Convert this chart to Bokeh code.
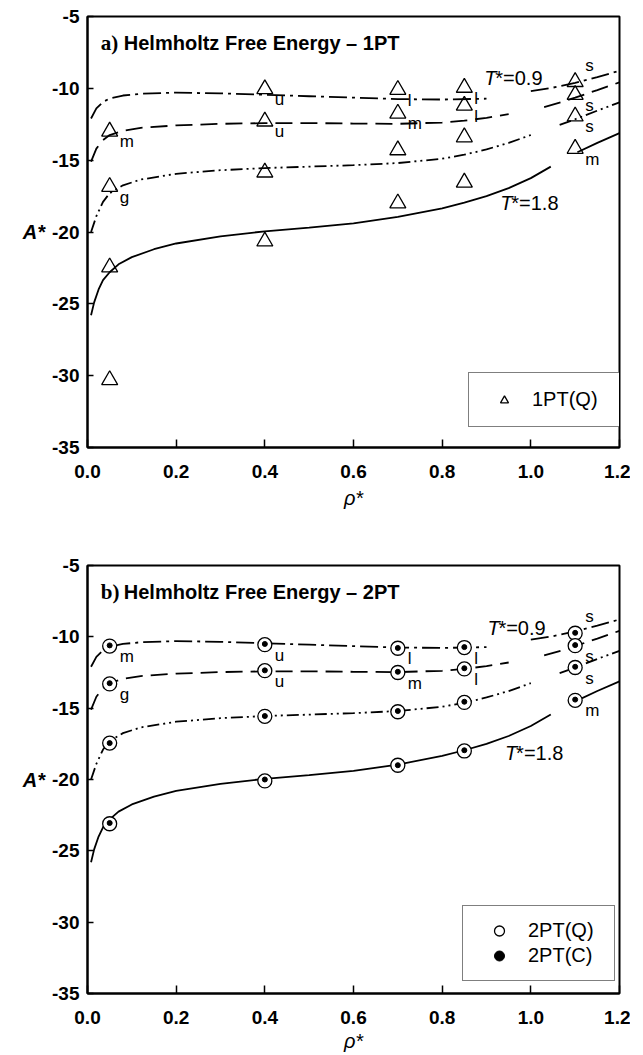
from bokeh.plotting import figure
from bokeh.models import Label, Legend, LegendItem, FixedTicker, PrintfTickFormatter, Range1d, ColumnDataSource
from bokeh.layouts import column
from bokeh.core.properties import value
from bokeh.embed import file_html
from bokeh.resources import INLINE

# ---------------- data ----------------
x_ticks = [0.0, 0.2, 0.4, 0.6, 0.8, 1.0, 1.2]
y_ticks = [-35, -30, -25, -20, -15, -10, -5]

# equation-of-state curves, two branches each
t09_left_x = [0.008, 0.02, 0.035, 0.05, 0.08, 0.12, 0.2, 0.3, 0.4, 0.5, 0.6, 0.7, 0.8, 0.9]
t09_left_y = [-12.1, -11.4, -10.95, -10.7, -10.5, -10.38, -10.3, -10.35, -10.45, -10.55, -10.65, -10.75, -10.78, -10.72]
t09_right_x = [1.0, 1.05, 1.1, 1.15, 1.2]
t09_right_y = [-10.2, -9.95, -9.62, -9.22, -8.78]

t12_left_x = [0.008, 0.02, 0.035, 0.05, 0.08, 0.12, 0.2, 0.3, 0.4, 0.5, 0.6, 0.7, 0.8, 0.85, 0.9, 0.95]
t12_left_y = [-15.1, -14.2, -13.6, -13.25, -12.95, -12.75, -12.58, -12.47, -12.42, -12.42, -12.45, -12.47, -12.38, -12.25, -12.05, -11.8]
t12_right_x = [1.03, 1.07, 1.1, 1.15, 1.2]
t12_right_y = [-11.3, -10.95, -10.65, -10.12, -9.58]

t15_left_x = [0.008, 0.02, 0.035, 0.05, 0.08, 0.12, 0.2, 0.3, 0.4, 0.5, 0.6, 0.7, 0.8, 0.85, 0.9, 0.95, 1.0]
t15_left_y = [-20.0, -18.9, -17.9, -17.3, -16.75, -16.35, -15.95, -15.7, -15.55, -15.45, -15.35, -15.2, -14.9, -14.62, -14.25, -13.8, -13.25]
t15_right_x = [1.065, 1.1, 1.15, 1.2]
t15_right_y = [-12.55, -12.15, -11.55, -10.98]

t18_left_x = [0.008, 0.015, 0.025, 0.035, 0.05, 0.07, 0.1, 0.15, 0.2, 0.3, 0.4, 0.5, 0.6, 0.7, 0.8, 0.85, 0.9, 0.95, 1.0, 1.045]
t18_left_y = [-25.8, -24.9, -24.0, -23.35, -22.8, -22.25, -21.75, -21.2, -20.8, -20.3, -19.95, -19.7, -19.4, -18.95, -18.35, -17.95, -17.5, -16.95, -16.25, -15.45]
t18_right_x = [1.105, 1.15, 1.2]
t18_right_y = [-14.45, -13.8, -13.12]

# simulation points
rho_pts = [0.05, 0.05, 0.05, 0.05, 0.4, 0.4, 0.4, 0.4, 0.7, 0.7, 0.7, 0.7,
           0.85, 0.85, 0.85, 0.85, 1.1, 1.1, 1.1, 1.1]
a_1pt_q = [-13.0, -16.85, -22.45, -30.3, -10.05, -12.3, -15.85, -20.65,
           -10.1, -11.75, -14.3, -18.0, -9.95, -11.2, -13.4, -16.55,
           -9.55, -10.45, -11.95, -14.2]
a_phase = ["m", "g", "", "", "u", "u", "", "", "l", "m", "", "",
           "l", "l", "", "", "s", "s", "s", "m"]

b_2pt_q = [-10.65, -13.3, -17.45, -23.1, -10.55, -12.37, -15.57, -20.1,
           -10.8, -12.5, -15.25, -19.0, -10.75, -12.25, -14.6, -18.0,
           -9.75, -10.62, -12.15, -14.45]
b_2pt_c = [-10.6, -13.25, -17.45, -23.05, -10.5, -12.35, -15.55, -20.0,
           -10.78, -12.45, -15.2, -19.0, -10.72, -12.2, -14.55, -17.95,
           -9.72, -10.58, -12.1, -14.4]
b_phase = ["m", "g", "", "", "u", "u", "", "", "l", "m", "", "",
           "l", "l", "", "", "s", "s", "s", "m"]

title_tags = ["a)", "b)"]
title_text = "Helmholtz Free Energy \u2013 "
title_suffix = ["1PT", "2PT"]

# ---------------- styling ----------------
SANS = "Liberation Sans"
SERIF = "Liberation Serif"
ABOVE_INDEX = 16  # the top "s" label sits above its marker


def base_figure(height, bl, br, bt, bb, xlabel_standoff):
    p = figure(width=630, height=height, output_backend="svg", toolbar_location=None,
               x_range=Range1d(0, 1.2), y_range=Range1d(-35, -5),
               min_border_left=bl, min_border_right=br, min_border_top=bt, min_border_bottom=bb)
    p.background_fill_color = "white"
    p.border_fill_color = "white"
    p.outline_line_color = "black"
    p.outline_line_width = 2
    p.xgrid.visible = False
    p.ygrid.visible = False
    p.xaxis.ticker = FixedTicker(ticks=x_ticks)
    p.yaxis.ticker = FixedTicker(ticks=y_ticks)
    p.xaxis.formatter = PrintfTickFormatter(format="%.1f")
    p.yaxis.formatter = PrintfTickFormatter(format="%d")
    for ax in (p.xaxis[0], p.yaxis[0]):
        ax.axis_line_width = 2
        ax.axis_line_color = "black"
        ax.major_tick_line_width = 1.5
        ax.major_tick_line_color = "black"
        ax.major_tick_out = 0
        ax.minor_tick_out = 0
        ax.minor_tick_in = 0
        ax.major_label_text_font = SANS
        ax.major_label_text_font_style = "bold"
        ax.major_label_text_font_size = "19px"
        ax.major_label_text_color = "black"
        ax.axis_label_text_color = "black"
        ax.axis_label_text_font = SANS
        ax.axis_label_text_font_size = "20px"
    p.xaxis.major_tick_in = 8
    p.yaxis.major_tick_in = 6
    p.xaxis.major_label_standoff = 17
    p.yaxis.major_label_standoff = 8
    p.xaxis.axis_label = "\u03c1*"
    p.xaxis.axis_label_text_font_style = "italic"
    p.xaxis.axis_label_standoff = xlabel_standoff
    p.yaxis.axis_label = "A*"
    p.yaxis.axis_label_text_font_style = "bold italic"
    p.yaxis.axis_label_standoff = 4
    try:
        p.yaxis.axis_label_orientation = "horizontal"
    except Exception:
        pass
    return p


def draw_curves(p):
    kw = dict(line_color="black", line_width=1.8)
    for xs, ys in ((t09_left_x, t09_left_y), (t09_right_x, t09_right_y)):
        p.line(xs, ys, line_dash="18 5 3 5", **kw)
    for xs, ys in ((t12_left_x, t12_left_y), (t12_right_x, t12_right_y)):
        p.line(xs, ys, line_dash="17 8", **kw)
    for xs, ys in ((t15_left_x, t15_left_y), (t15_right_x, t15_right_y)):
        p.line(xs, ys, line_dash="12 4 2 4 2 4", **kw)
    for xs, ys in ((t18_left_x, t18_left_y), (t18_right_x, t18_right_y)):
        p.line(xs, ys, **kw)


def draw_phase_labels(p, ys, phases):
    below = dict(x=[], y=[], t=[])
    above = dict(x=[], y=[], t=[])
    for i, (x, y, t) in enumerate(zip(rho_pts, ys, phases)):
        if not t:
            continue
        d = above if i == ABOVE_INDEX else below
        d["x"].append(x); d["y"].append(y); d["t"].append(t)
    common = dict(text_font=value(SANS), text_font_size="17px", text_color="black", x_offset=10)
    p.text(x="x", y="y", text="t", source=ColumnDataSource(below),
           text_baseline="top", y_offset=1, **common)
    p.text(x="x", y="y", text="t", source=ColumnDataSource(above),
           text_baseline="bottom", y_offset=-7, **common)


def annotate(p, k, t09_pos, t18_pos):
    p.add_layout(Label(x=0.03, y=-6.85, text=title_tags[k], text_font=SERIF, text_font_style="bold",
                       text_font_size="21px", text_baseline="middle", text_color="black"))
    p.add_layout(Label(x=0.03, y=-6.85, x_offset=23, text=title_text + title_suffix[k],
                       text_font=SANS, text_font_style="bold",
                       text_font_size="20px", text_baseline="middle", text_color="black"))
    for (x, y), rest in ((t09_pos, "*=0.9"), (t18_pos, "*=1.8")):
        p.add_layout(Label(x=x, y=y, text="T", text_font=SANS, text_font_style="italic",
                           text_font_size="20px", text_baseline="middle", text_color="black"))
        p.add_layout(Label(x=x, y=y, x_offset=11, text=rest, text_font=SANS,
                           text_font_size="20px", text_baseline="middle", text_color="black"))


# ---------------- panel a ----------------
p1 = base_figure(548, 79, 11, 16, 101, 6)
draw_curves(p1)
tri = p1.scatter(rho_pts, a_1pt_q, marker="triangle", size=16, fill_color=None,
                 line_color="black", line_width=1.3)
draw_phase_labels(p1, a_1pt_q, a_phase)
annotate(p1, 0, (0.895, -9.25), (0.931, -17.95))
leg1 = Legend(items=[LegendItem(label="1PT(Q)", renderers=[tri])], location=(381, 20),
              padding=15, glyph_width=40, glyph_height=20, label_height=20, label_width=75,
              label_standoff=8, spacing=0, border_line_color="black", border_line_width=1.2,
              label_text_font=SANS, label_text_font_size="20px", label_text_color="black",
              background_fill_alpha=1)
p1.add_layout(leg1)

# ---------------- panel b ----------------
p2 = base_figure(517, 87, 4, 17, 72, 3)
draw_curves(p2)
circ = p2.scatter(rho_pts, b_2pt_q, marker="circle", size=14, fill_color="white",
                  line_color="black", line_width=1.3)
dot = p2.scatter(rho_pts, b_2pt_c, marker="circle", size=5, fill_color="black",
                 line_color="black")
draw_phase_labels(p2, b_2pt_q, b_phase)
annotate(p2, 1, (0.902, -9.4), (0.942, -18.15))
leg2 = Legend(items=[LegendItem(label="2PT(Q)", renderers=[circ]),
                     LegendItem(label="2PT(C)", renderers=[dot])], location=(375, 12),
              padding=12, glyph_width=48, glyph_height=25, label_height=25, label_width=74,
              label_standoff=5, spacing=0, border_line_color="black", border_line_width=1.2,
              label_text_font=SANS, label_text_font_size="20px", label_text_color="black",
              background_fill_alpha=1)
p2.add_layout(leg2)

layout = column(p1, p2, spacing=0)
open("out.html", "w").write(file_html(layout, INLINE))
